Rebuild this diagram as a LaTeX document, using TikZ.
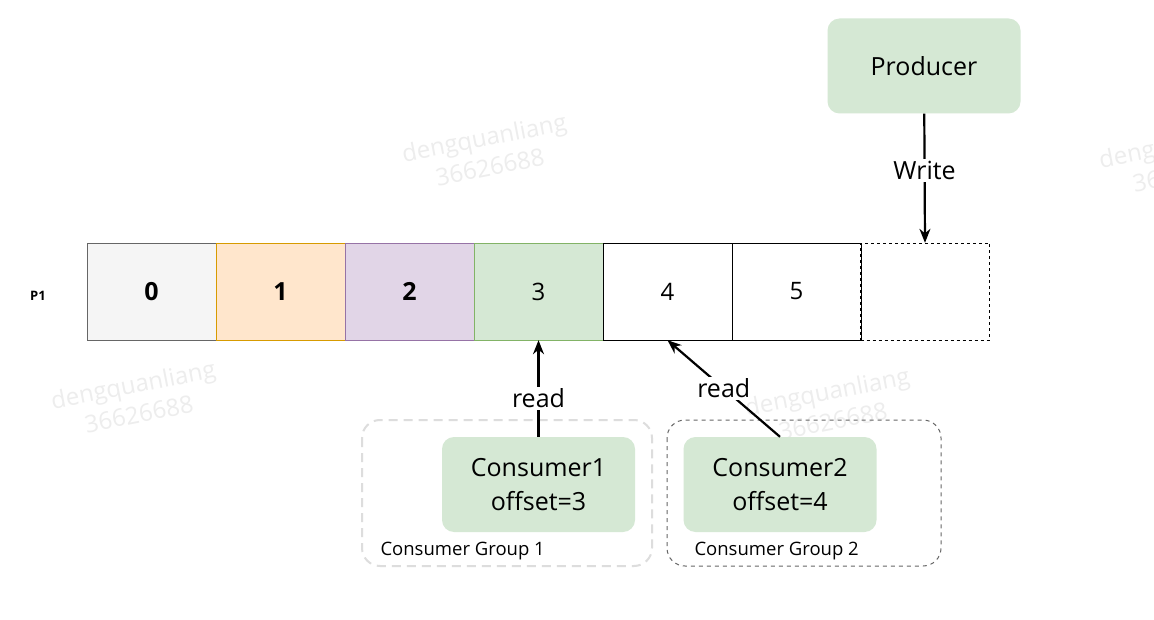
\documentclass[tikz,border=0pt]{standalone}
\usepackage{fontspec}
\setmainfont{Open Sans}
\newfontfamily\markfont{Open Sans}
\usetikzlibrary{arrows.meta,positioning}

\definecolor{greyfill}{HTML}{F5F5F5}
\definecolor{greyline}{HTML}{666666}
\definecolor{orangefill}{HTML}{FFE6CC}
\definecolor{orangeline}{HTML}{D79B00}
\definecolor{purplefill}{HTML}{E1D5E7}
\definecolor{purpleline}{HTML}{9673A6}
\definecolor{greenfill}{HTML}{D5E8D4}
\definecolor{greenline}{HTML}{82B366}
\definecolor{groupline}{HTML}{DDDDDD}
\definecolor{markgrey}{HTML}{EDEDED}

\tikzset{
    cell/.style = {draw, minimum width = 129pt, minimum height = 97pt, inner sep = 0pt,
                   font = \fontsize{24}{28}\selectfont},
    client/.style = {fill = greenfill, rounded corners = 12pt, minimum width = 193pt,
                     minimum height = 95pt, align = center, font = \fontsize{25}{34}\selectfont},
    flow/.style = {-{Stealth[length = 14pt, width = 11pt]}, line width = 2.2pt},
    flowlabel/.style = {fill = white, inner sep = 2pt, font = \fontsize{25}{28}\selectfont},
    grouplabel/.style = {anchor = west, font = \fontsize{18.5}{20}\selectfont},
    watermark/.style = {markgrey, rotate = 11, align = center,
                        font = \markfont\fontsize{24}{30}\selectfont}
}

\begin{document}
\begin{tikzpicture}[x = 1pt, y = -1pt]
            \useasboundingbox[fill = white] (0,0) rectangle (1154,620);

            % watermarks
            \node[watermark] (w1) at (487,152) {dengquanliang\\36626688};
            \node[watermark] (w2) at (136,399) {dengquanliang\\36626688};
            \node[watermark] (w3) at (830,406) {dengquanliang\\36626688};
            \node[watermark] (w4) at (1184,158) {dengquanliang\\36626688};

            % partition log
            \node[font = \fontsize{13}{15}\selectfont\bfseries] (p1) at (38,296) {P1};
            \foreach \i/\f/\l in {0/greyfill/greyline, 1/orangefill/orangeline,
                                  2/purplefill/purpleline}{
                \node[cell, fill = \f, draw = \l, font = \fontsize{25}{28}\selectfont\bfseries]
                    (c\i) at (151.5 + 129*\i, 291.5) {\raisebox{-4pt}{\i}};
            }
            \node[cell, fill = greenfill, draw = greenline] (c3) at (538.5,291.5) {\raisebox{-4pt}{3}};
            \foreach \i in {4,5}{
                \node[cell] (c\i) at (151.5 + 129*\i, 291.5) {\raisebox{-4pt}{\i}};
            }
            \node[cell, dashed] (c6) at (925,291.5) {};

            % producer
            \node[client] (prod) at (924,66) {\raisebox{-3pt}{Producer}};
            \draw[flow] (prod) to node[flowlabel, pos = 0.44] {Write} (c6.north);

            % consumer groups
            \draw[groupline, line width = 2pt, dash pattern = on 9pt off 6pt, rounded corners = 18pt]
                (362,420) rectangle (652,566);
            \draw[greyline, line width = 1pt, dash pattern = on 4pt off 4pt, rounded corners = 18pt]
                (667,420) rectangle (941,566);
            \node[grouplabel] (g1) at (377,551) {Consumer Group 1};
            \node[grouplabel] (g2) at (691,551) {Consumer Group 2};

            \node[client] (cons1) at (538.5,484.5) {Consumer1\\offset=3};
            \node[client] (cons2) at (780,484.5) {Consumer2\\offset=4};

            \draw[flow] (cons1.north) to node[flowlabel, pos = 0.4] {read} (c3.south);
            \draw[flow] (cons2.north) to node[flowlabel, midway] {read} (c4.south);
        \end{tikzpicture}
\end{document}
